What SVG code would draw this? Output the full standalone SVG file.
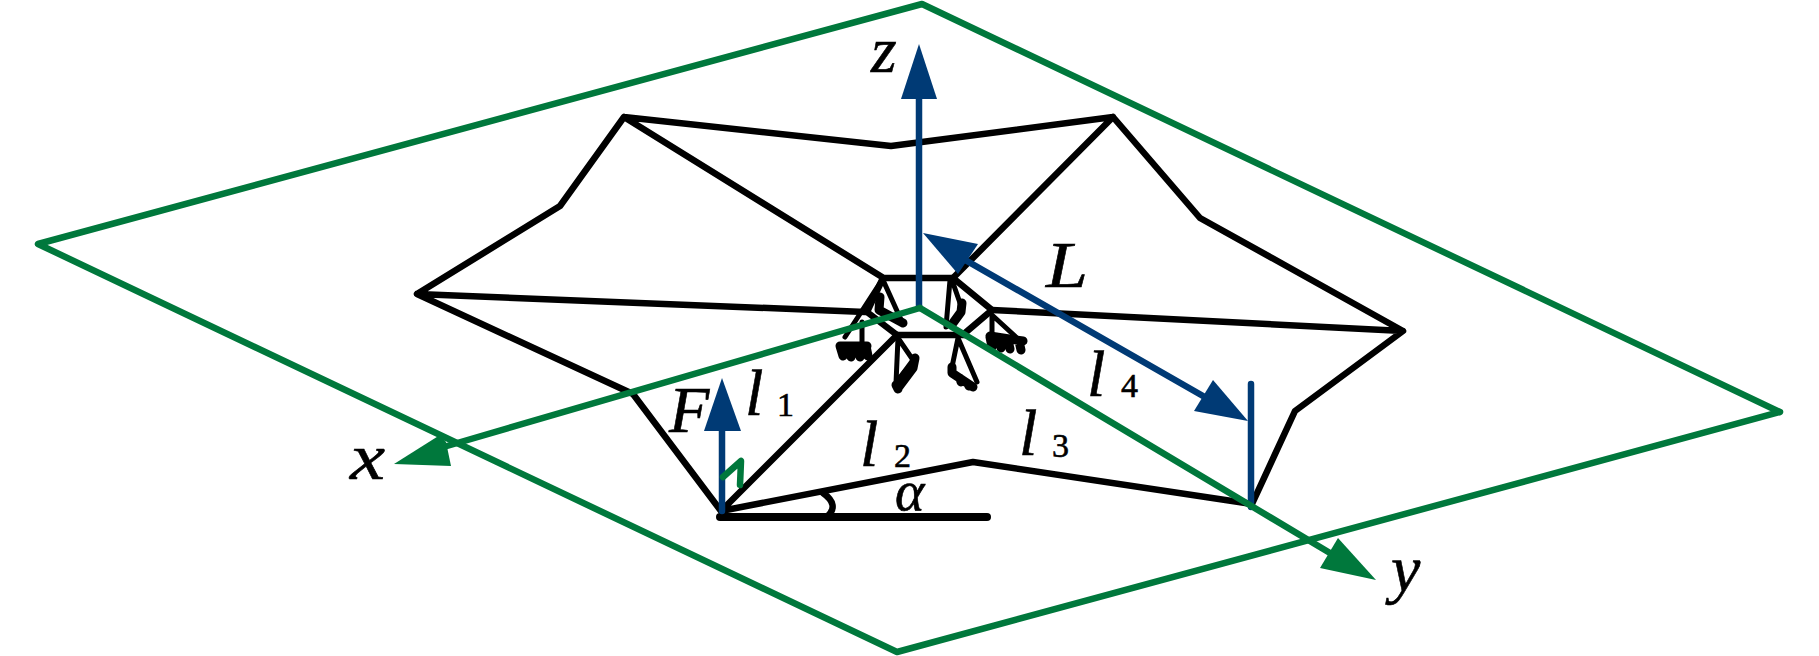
<svg xmlns="http://www.w3.org/2000/svg" width="1819" height="656" viewBox="0 0 1819 656">
<style>
.k{fill:none;stroke:#000;stroke-width:6.5;stroke-linejoin:round;stroke-linecap:round}
.t{fill:none;stroke:#000;stroke-width:5;stroke-linejoin:round;stroke-linecap:round}
.h{fill:none;stroke:#000;stroke-width:9;stroke-linejoin:round;stroke-linecap:round}
.g{fill:none;stroke:#00783c;stroke-width:6.5;stroke-linejoin:round;stroke-linecap:round}
.b{fill:none;stroke:#003a75;stroke-width:6.5;stroke-linecap:round}
.gf{fill:#00783c}
.bf{fill:#003a75}
text{font-family:"Liberation Serif","DejaVu Serif",serif;fill:#000;stroke:#000;stroke-width:.6}
.i{font-style:italic}
.m{font-size:66px}
.s{font-size:34px}
.a{font-size:56px}
</style>
<g id="connectors">
<g id="truss">
<path class="k" d="M882 277L624 117L891 146L1113 117L953 278M624 117L560 206L417 294L865 312M417 294L633 394L721 511L897 335M633 394L721 511L973 462L1252 504L1295 411L1403 331L992 310M1403 331L1290 268L1200 218L1113 117"/>
<path class="k" d="M883 278H953L992 310L965 333M883 278L867 312L897 335H965"/>
<path class="k" style="stroke-width:8" d="M720 517H987"/>
<path class="k" d="M823 493Q840 505 827 517"/>
</g>
<g id="supports">
<path class="t" d="M880 283L845 337M862 322V345"/>
<path class="h" d="M840 346H867M840 346l3 10M849 348l2 9M858 348l2 9M866 346l2 10"/>
<path class="t" d="M883 280L902 322"/>
<path class="h" d="M880 297L879 310L903 323"/>
<path class="t" d="M898 338L896 383M898 338L913 360M896 383L913 360"/>
<path class="h" d="M915 358L913 368L898 388M907 372l-4 5M896 385l2 4"/>
<path class="t" d="M958 338L952 367M958 338L977 382"/>
<path class="h" d="M952 367L952 373L973 387M960 378l1 4M968 384l1 2"/>
<path class="t" d="M950 280L946 327M953 283L960 303"/>
<path class="h" d="M962 303L961 312L953 323"/>
<path class="t" d="M992 315L992 337M992 315L1017 338"/>
<path class="h" d="M990 336L1023 341M990 337l2 10M999 339l2 9M1008 340l2 9M1019 341l2 9"/>
</g>
<g id="plane">
<path class="g" d="M922 4L1780 412L897 652L38 244Z"/>
</g>
<g id="axis-z">
<path class="b" d="M919 307V95"/>
<polygon class="bf" points="919,44 901,99 937,99"/>
</g>
<g id="force-F">
<path class="b" d="M722 511V428"/>
<polygon class="bf" points="722,378 704,431 741,431"/>
</g>
<g id="dimension-L">
<path class="b" d="M960 257L1203 396M1251 384V507"/>
<polygon class="bf" points="923,233 978,244 958,274"/>
<polygon class="bf" points="1248,421 1213,380 1194,411"/>
</g>
<g id="axis-x">
<path class="g" d="M920 308L447 446"/>
<polygon class="gf" points="394,464 451,466 446,442 440,435"/>
</g>
<g id="axis-y">
<path class="g" d="M920 308L1330 553"/>
<polygon class="gf" points="1376,580 1338,538 1320,568"/>
</g>
<path id="spring" class="g" d="M723 477L741 461L740 485"/>
</g>
<g id="label-z"><text class="i m" x="871" y="72">z</text></g>
<g id="label-x"><text class="i m" x="350" y="479" textLength="35" lengthAdjust="spacingAndGlyphs">x</text></g>
<g id="label-y"><text class="i m" x="1391" y="591">y</text></g>
<g id="label-F"><text class="i m" x="669" y="432">F</text></g>
<g id="label-L"><text class="i m" x="1046" y="287" textLength="42" lengthAdjust="spacingAndGlyphs">L</text></g>
<g id="label-l1"><text x="745" y="415"><tspan class="i m">l</tspan><tspan class="s" x="777" y="416">1</tspan></text></g>
<g id="label-l2"><text x="860" y="466"><tspan class="i m">l</tspan><tspan class="s" x="894" y="467">2</tspan></text></g>
<g id="label-l3"><text x="1019" y="455"><tspan class="i m">l</tspan><tspan class="s" x="1052" y="457">3</tspan></text></g>
<g id="label-l4"><text x="1087" y="396"><tspan class="i m">l</tspan><tspan class="s" x="1121" y="397">4</tspan></text></g>
<g id="label-alpha"><text class="i a" x="895" y="510">α</text></g>
</svg>
